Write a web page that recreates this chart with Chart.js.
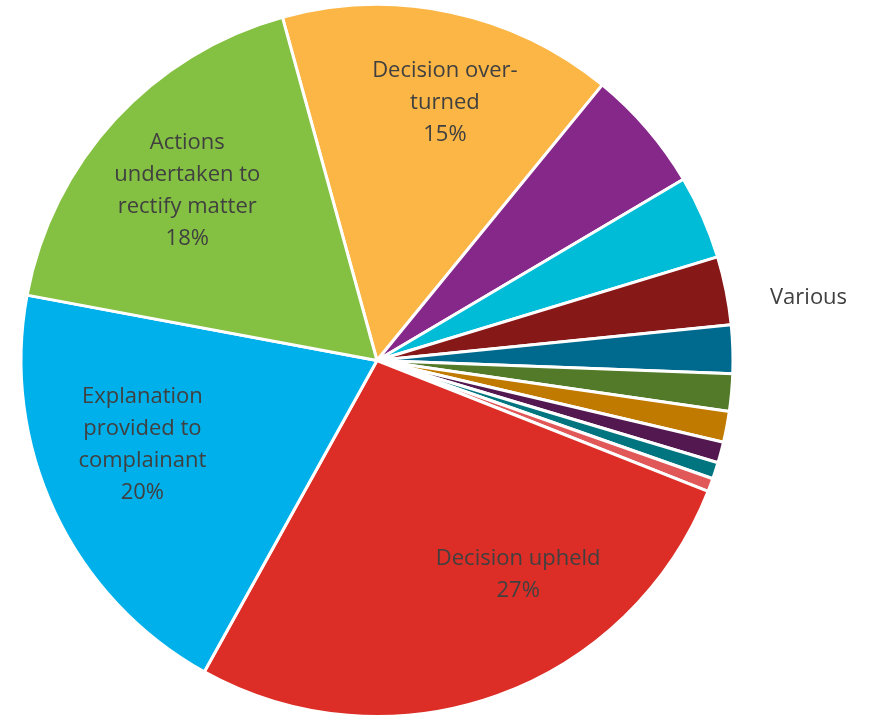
<!DOCTYPE html>
<html>
<head>
<meta charset="utf-8">
<script src="https://cdn.jsdelivr.net/npm/chart.js@4/dist/chart.umd.min.js"></script>
<style>
  html, body { margin: 0; padding: 0; background: #fff; }
  #wrap { width: 876px; height: 720px; }
</style>
</head>
<body>
<div id="wrap"><canvas id="graficoPie"></canvas></div>
<script>
// categorias, en el orden de la torta (sentido horario)
const categorias = [
  ["Decision over-", "turned"],
  "Various A", "Various B", "Various C", "Various D", "Various E",
  "Various F", "Various G", "Various H", "Various I",
  "Decision upheld",
  ["Explanation", "provided to", "complainant"],
  ["Actions", "undertaken to", "rectify matter"]
]
const porcentajes = [15.2, 5.6, 3.8, 3.1, 2.2, 1.7, 1.4, 0.95, 0.75, 0.6, 27.1, 19.9, 17.8]
const mostrarEtiqueta = [true, false, false, false, false, false, false, false, false, false, true, true, true]
const colores = [
  "#FBB646", "#86288A", "#00BCD6", "#861817", "#006A8E", "#527A28",
  "#C17A00", "#53184F", "#007580", "#E05858", "#DC2E26", "#00B0EA", "#84C142"
]

const fuente = "'Open Sans', 'Noto Sans', sans-serif"

// ajuste fino de la posicion de cada etiqueta (angulo en grados, radio relativo)
const ajusteEtiquetas = {
  0: { da: 2.8, r: 0.75 },
  10: { da: -13.7, r: 0.72 },
  11: { da: 5.5, r: 0.70 },
  12: { da: -0.7, r: 0.716 }
}

const pluginEtiquetas = {
  id: "etiquetas",
  afterDatasetsDraw(chart) {
    const ctx = chart.ctx
    const meta = chart.getDatasetMeta(0)
    ctx.save()
    ctx.font = "22px " + fuente
    ctx.fillStyle = "#404040"
    ctx.textAlign = "center"
    ctx.textBaseline = "middle"
    const lh = 32
    meta.data.forEach((arc, i) => {
      if (!mostrarEtiqueta[i]) return
      const aj = ajusteEtiquetas[i] || { da: 0, r: 0.7 }
      const mid = (arc.startAngle + arc.endAngle) / 2 + aj.da * Math.PI / 180
      const x = arc.x + Math.cos(mid) * arc.outerRadius * aj.r
      const y = arc.y + Math.sin(mid) * arc.outerRadius * aj.r
      let lineas = [].concat(categorias[i])
      lineas.push(Math.round(porcentajes[i]) + "%")
      const y0 = y - (lineas.length - 1) * lh / 2
      lineas.forEach((l, k) => ctx.fillText(l, x, y0 + k * lh))
    })
    // etiqueta de las porciones pequeñas
    const a0 = meta.data[0]
    ctx.textAlign = "left"
    ctx.fillText("Various", a0.x + a0.outerRadius + 37, a0.y - 63)
    ctx.restore()
  }
}

new Chart(document.getElementById("graficoPie"), {
  type: "pie",
  data: {
    labels: categorias,
    datasets: [{
      data: porcentajes,
      backgroundColor: colores,
      borderColor: "#ffffff",
      borderWidth: 3
    }]
  },
  options: {
    responsive: true,
    maintainAspectRatio: false,
    animation: false,
    rotation: -15.4,
    layout: { padding: { left: 0, right: 122, top: 3, bottom: 2 } },
    plugins: {
      legend: { display: false },
      tooltip: { enabled: false }
    }
  },
  plugins: [pluginEtiquetas]
})
</script>
</body>
</html>
